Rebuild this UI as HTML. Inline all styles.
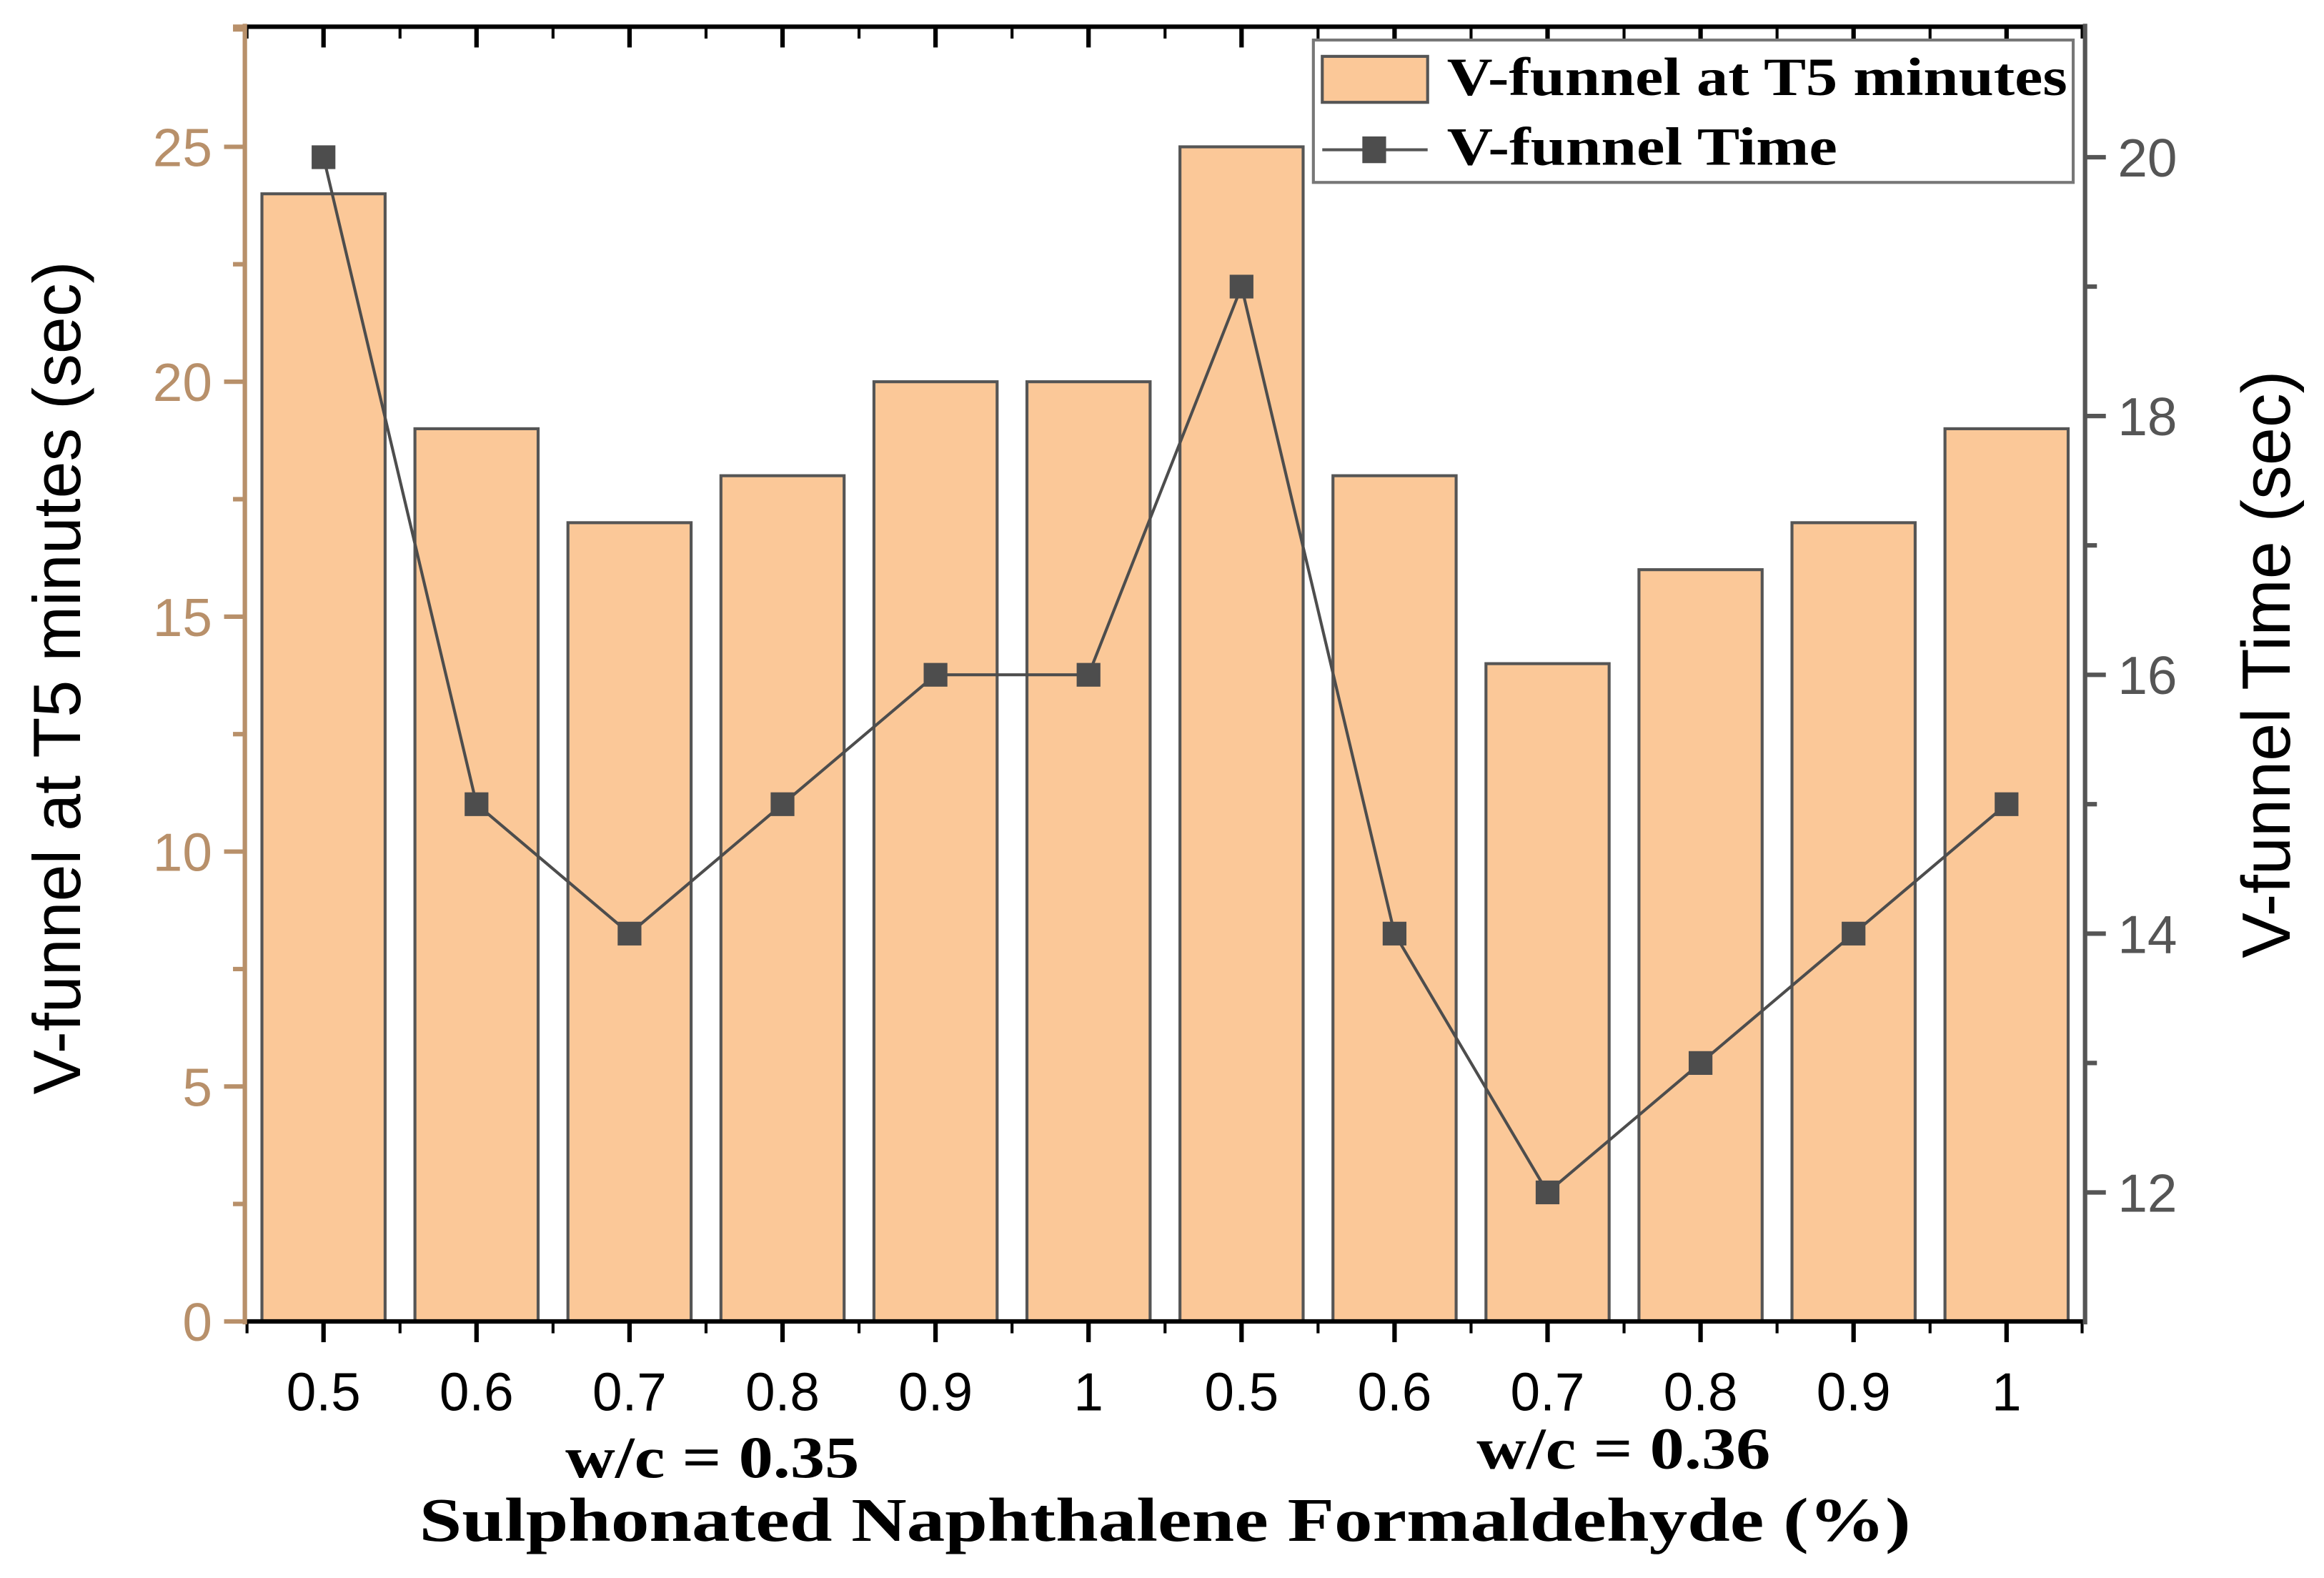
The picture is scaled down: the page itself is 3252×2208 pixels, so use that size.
<!DOCTYPE html>
<html><head><meta charset="utf-8"><style>
html,body{margin:0;padding:0;background:#fff;}
svg{display:block;}
.tk{font-family:"Liberation Sans",sans-serif;font-size:36px;}
.sb{font-family:"Liberation Serif",serif;font-weight:bold;}
</style></head><body>
<svg id="chart" width="3252" height="2208" viewBox="0 0 1566 1064" preserveAspectRatio="none" xmlns="http://www.w3.org/2000/svg">
<rect x="0" y="0" width="1566" height="1064" fill="#fff"/>
<g id="bars"></g>
<g id="line"></g>
<g id="axes"></g>
<text x="0" y="0" transform="translate(54,457) rotate(-90)" text-anchor="middle" font-family="Liberation Sans, sans-serif" font-size="45">V-funnel at T5 minutes (sec)</text>
<text x="0" y="0" transform="translate(1543,448) rotate(-90)" text-anchor="middle" font-family="Liberation Sans, sans-serif" font-size="46">V-funnel Time (sec)</text>
<text x="480" y="996" text-anchor="middle" class="sb" font-size="40" textLength="198" lengthAdjust="spacingAndGlyphs">w/c = 0.35</text>
<text x="1094" y="990" text-anchor="middle" class="sb" font-size="40" textLength="198" lengthAdjust="spacingAndGlyphs">w/c = 0.36</text>
<text x="785" y="1039" text-anchor="middle" class="sb" font-size="42" textLength="1005" lengthAdjust="spacingAndGlyphs">Sulphonated Naphthalene Formaldehyde (%)</text>
<g>
<rect x="885" y="27" width="512" height="96" fill="#fff" stroke="#777" stroke-width="2"/>
<rect x="891" y="38" width="71" height="31" fill="#fbc898" stroke="#555" stroke-width="2"/>
<text x="975" y="64" class="sb" font-size="36" textLength="418" lengthAdjust="spacingAndGlyphs">V-funnel at T5 minutes</text>
<line x1="891" y1="101" x2="962" y2="101" stroke="#555" stroke-width="2"/>
<rect x="918" y="92" width="16" height="18" fill="#4d4d4d"/>
<text x="975" y="111" class="sb" font-size="36" textLength="263" lengthAdjust="spacingAndGlyphs">V-funnel Time</text>
</g>
</svg>
<script>
const categories = ["0.5","0.6","0.7","0.8","0.9","1","0.5","0.6","0.7","0.8","0.9","1"];
const barValues = [24,19,17,18,20,20,25,18,14,16,17,19];
const lineValues = [20,15,14,15,16,16,19,14,12,13,14,15];
const leftTicks = [0,5,10,15,20,25];
const rightTicks = [12,14,16,18,20];

const NS = "http://www.w3.org/2000/svg";
const L = 165, R = 1405, T = 18, B = 891;
const step = 103.1, x0 = 218, bw = 83;
function xPos(i){ return x0 + i*step; }
function yL(v){ return B - v*31.68; }
function yR(v){ return 804 - (v-12)*87.25; }
function mk(tag, attrs, parent){
  const e = document.createElementNS(NS, tag);
  for (const k in attrs) e.setAttribute(k, attrs[k]);
  parent.appendChild(e); return e;
}
const gb = document.getElementById('bars');
barValues.forEach((v,i)=>{
  const r = mk('rect',{x:xPos(i)-bw/2,y:yL(v),width:bw,height:B-yL(v),fill:'#fbc898',stroke:'#555','stroke-width':2},gb);
  
  
});
const gl = document.getElementById('line');
const pts = lineValues.map((v,i)=>xPos(i)+','+yR(v)).join(' ');
const pl = mk('polyline',{points:pts,fill:'none',stroke:'#4d4d4d','stroke-width':2},gl);


lineValues.forEach((v,i)=>{
  const m = mk('rect',{x:xPos(i)-8,y:yR(v)-8,width:16,height:16,fill:'#4d4d4d'},gl);
  
  
});
const ga = document.getElementById('axes');
mk('line',{x1:L,y1:T,x2:R,y2:T,stroke:'#000','stroke-width':3},ga);
mk('line',{x1:L,y1:B,x2:R,y2:B,stroke:'#000','stroke-width':3},ga);
for(let i=0;i<categories.length;i++){
  const x=xPos(i);
  mk('line',{x1:x,y1:B,x2:x,y2:B+14,stroke:'#000','stroke-width':3},ga);
  mk('line',{x1:x,y1:T,x2:x,y2:T+14,stroke:'#000','stroke-width':3},ga);
  const xm = x - step/2;
  mk('line',{x1:xm,y1:B,x2:xm,y2:B+8,stroke:'#000','stroke-width':2},ga);
  mk('line',{x1:xm,y1:T,x2:xm,y2:T+8,stroke:'#000','stroke-width':2},ga);
  const t = mk('text',{x:x,y:951,'text-anchor':'middle',class:'tk',fill:'#000'},ga);
  t.textContent = categories[i];
  
  
}
mk('line',{x1:R-2,y1:B,x2:R-2,y2:B+8,stroke:'#000','stroke-width':2},ga);
mk('line',{x1:R-2,y1:T,x2:R-2,y2:T+8,stroke:'#000','stroke-width':2},ga);
mk('line',{x1:L,y1:T-2,x2:L,y2:B+2,stroke:'#b8906a','stroke-width':3},ga);
leftTicks.forEach(v=>{
  const y=yL(v);
  mk('line',{x1:L-14,y1:y,x2:L,y2:y,stroke:'#b8906a','stroke-width':3},ga);
  const ym=yL(v+2.5);
  if(ym>T) mk('line',{x1:L-8,y1:ym,x2:L,y2:ym,stroke:'#b8906a','stroke-width':3},ga);
  const t = mk('text',{x:L-22,y:y+13,'text-anchor':'end',class:'tk',fill:'#b8906a'},ga);
  t.textContent = v;
  
  
});
mk('line',{x1:L-8,y1:T,x2:L,y2:T,stroke:'#b8906a','stroke-width':3},ga);
mk('line',{x1:R,y1:T-2,x2:R,y2:B+2,stroke:'#555','stroke-width':3},ga);
rightTicks.forEach(v=>{
  const y=yR(v);
  mk('line',{x1:R,y1:y,x2:R+14,y2:y,stroke:'#555','stroke-width':3},ga);
  const ym=yR(v-1);
  if(ym<B) mk('line',{x1:R,y1:ym,x2:R+8,y2:ym,stroke:'#555','stroke-width':3},ga);
  const t = mk('text',{x:R+22,y:y+13,'text-anchor':'start',class:'tk',fill:'#555'},ga);
  t.textContent = v;
  
  
});
</script>
</body></html>
